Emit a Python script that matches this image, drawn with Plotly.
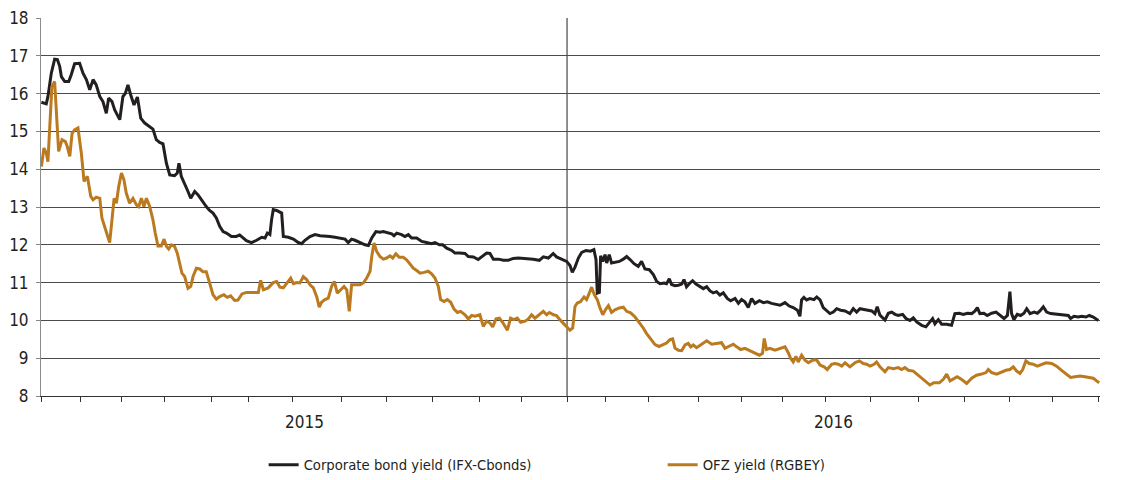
import plotly.graph_objects as go

# x = trading-day index (0 = first trading day of 2015), y = yield, %
corp_day = [0.2, 2.5, 3.3, 4.9, 6.5, 7.8, 8.9, 9.7, 11.3, 13.2, 14.4, 16.0, 18.4, 20.0, 21.6, 23.2, 24.8, 26.3, 28.0, 29.5,
            31.1, 32.2, 33.8, 35.1, 37.5, 39.0, 40.2, 41.4, 42.7, 44.3, 45.9, 47.5, 49.4, 51.8, 53.3, 54.9, 56.5, 58.1, 59.7, 61.3,
            63.6, 64.9, 65.7, 66.8, 68.4, 70.0, 71.3, 73.2, 74.8, 76.3, 78.7, 80.3, 81.9, 83.5, 85.1, 86.7, 88.3, 90.7, 93.0, 94.6,
            96.2, 97.8, 100.2, 102.7, 105.1, 106.7, 107.8, 109.0, 109.8, 110.6, 112.2, 114.6, 115.4, 117.8, 120.2, 122.5, 124.1, 125.7, 128.1, 130.5,
            132.9, 135.2, 137.6, 140.0, 142.4, 144.8, 146.3, 147.9, 149.5, 151.9, 154.3, 155.9, 157.5, 159.5, 161.4, 163.0, 164.9, 167.0, 168.1, 169.4,
            171.7, 173.3, 174.9, 176.5, 178.9, 181.3, 183.6, 186.0, 187.6, 189.7, 191.3, 193.2, 195.6, 197.1, 199.5, 201.9, 203.5, 205.9, 208.2, 210.6,
            212.2, 213.8, 215.4, 217.8, 220.2, 222.5, 224.9, 227.3, 229.7, 232.1, 234.4, 237.3, 239.2, 241.6, 243.9, 245.5, 247.9, 250.3, 251.9, 253.0,
            254.3, 255.9, 257.5, 259.5, 261.7, 263.3, 264.3, 264.9, 265.9, 266.5, 267.5, 268.6, 269.4, 270.6, 271.7, 273.3, 275.4, 277.3, 278.9, 280.5,
            282.4, 284.4, 286.0, 287.6, 289.7, 291.6, 293.2, 294.8, 296.7, 297.9, 299.2, 300.3, 301.9, 303.5, 305.1, 306.2, 307.4, 309.0, 310.3, 311.9,
            313.8, 315.4, 317.0, 318.6, 320.1, 321.7, 323.3, 324.9, 326.8, 328.4, 330.5, 332.1, 333.6, 335.2, 336.8, 338.4, 340.0, 342.1, 344.0, 345.9,
            347.9, 350.0, 351.9, 354.3, 356.3, 358.2, 360.2, 361.4, 362.2, 363.3, 364.6, 366.2, 368.1, 369.4, 371.0, 372.5, 374.1, 375.7, 377.3, 378.9,
            380.8, 382.9, 385.2, 386.8, 388.4, 390.0, 391.9, 394.0, 395.6, 397.1, 398.2, 399.5, 401.9, 403.5, 405.1, 406.7, 408.2, 410.3, 411.9, 413.8,
            415.4, 417.0, 419.4, 421.4, 423.3, 424.6, 425.7, 427.3, 428.9, 431.3, 433.6, 435.2, 437.3, 439.2, 441.1, 443.2, 444.8, 445.9, 447.1, 449.0,
            450.6, 452.7, 454.8, 456.7, 458.6, 460.2, 461.4, 462.2, 463.3, 464.9, 466.5, 468.1, 469.4, 471.0, 472.9, 474.5, 475.7, 477.3, 478.9, 480.8,
            483.6, 486.8, 489.2, 490.3, 491.9, 494.0, 495.6, 497.6, 499.2, 501.1, 502.7, 503.5]
corp_yield = [15.77, 15.73, 15.92, 16.54, 16.91, 16.90, 16.72, 16.45, 16.32, 16.32, 16.50, 16.79, 16.80, 16.54, 16.37, 16.10, 16.37, 16.23, 15.92, 15.79,
              15.48, 15.88, 15.79, 15.57, 15.31, 15.92, 16.01, 16.23, 15.97, 15.70, 15.91, 15.35, 15.22, 15.13, 15.06, 14.78, 14.71, 14.67, 14.16, 13.85,
              13.83, 13.90, 14.16, 13.81, 13.63, 13.41, 13.23, 13.41, 13.32, 13.19, 13.01, 12.91, 12.84, 12.71, 12.49, 12.35, 12.31, 12.22, 12.22, 12.26,
              12.18, 12.11, 12.06, 12.12, 12.20, 12.18, 12.31, 12.27, 12.66, 12.93, 12.91, 12.84, 12.22, 12.20, 12.15, 12.06, 12.03, 12.12, 12.22, 12.27,
              12.24, 12.24, 12.22, 12.20, 12.18, 12.15, 12.06, 12.15, 12.12, 12.05, 12.00, 11.98, 12.18, 12.35, 12.33, 12.35, 12.33, 12.29, 12.24, 12.31,
              12.27, 12.22, 12.27, 12.18, 12.18, 12.09, 12.06, 12.03, 12.06, 12.00, 12.00, 11.91, 11.85, 11.78, 11.78, 11.77, 11.69, 11.68, 11.61, 11.71,
              11.78, 11.77, 11.62, 11.62, 11.59, 11.59, 11.64, 11.65, 11.64, 11.64, 11.62, 11.59, 11.68, 11.65, 11.77, 11.68, 11.62, 11.56, 11.45, 11.27,
              11.41, 11.65, 11.80, 11.85, 11.83, 11.87, 11.61, 10.72, 10.74, 11.71, 11.56, 11.74, 11.52, 11.74, 11.52, 11.54, 11.56, 11.62, 11.69, 11.61,
              11.50, 11.43, 11.56, 11.36, 11.34, 11.21, 11.03, 10.97, 10.99, 10.97, 11.10, 10.95, 10.92, 10.93, 10.96, 11.08, 10.89, 10.99, 11.05, 10.96,
              10.89, 10.84, 10.89, 10.78, 10.73, 10.76, 10.67, 10.73, 10.58, 10.52, 10.58, 10.45, 10.55, 10.49, 10.34, 10.58, 10.45, 10.52, 10.47, 10.49,
              10.45, 10.43, 10.40, 10.47, 10.38, 10.34, 10.27, 10.11, 10.54, 10.61, 10.54, 10.58, 10.55, 10.62, 10.54, 10.34, 10.25, 10.18, 10.22, 10.31,
              10.27, 10.25, 10.18, 10.31, 10.22, 10.31, 10.29, 10.27, 10.25, 10.18, 10.36, 10.14, 10.01, 10.19, 10.22, 10.16, 10.13, 10.16, 10.05, 10.00,
              10.07, 9.96, 9.87, 9.83, 9.96, 10.05, 9.91, 10.02, 9.90, 9.90, 9.87, 10.18, 10.19, 10.16, 10.19, 10.18, 10.25, 10.34, 10.18, 10.19,
              10.13, 10.19, 10.22, 10.13, 10.05, 10.13, 10.76, 10.18, 10.02, 10.16, 10.13, 10.19, 10.31, 10.18, 10.22, 10.19, 10.25, 10.36, 10.22, 10.18,
              10.16, 10.13, 10.13, 10.05, 10.11, 10.09, 10.11, 10.09, 10.13, 10.09, 10.02, 10.00]

ofz_day = [0.2, 1.4, 2.5, 3.3, 4.1, 5.2, 6.5, 7.3, 8.4, 10.0, 11.6, 12.5, 13.7, 14.8, 16.0, 17.6, 19.2, 20.5, 22.1, 23.7,
           24.8, 26.3, 28.0, 29.0, 30.3, 31.6, 32.7, 33.8, 34.8, 35.9, 37.0, 38.3, 39.5, 40.6, 42.2, 43.8, 45.4, 46.5, 47.8, 49.0,
           50.2, 51.8, 53.3, 54.4, 55.7, 57.3, 58.6, 59.7, 60.8, 62.1, 63.6, 64.9, 66.0, 67.1, 68.4, 70.0, 71.3, 72.4, 74.0, 75.6,
           77.1, 78.7, 80.3, 81.9, 83.5, 85.1, 87.1, 88.7, 90.3, 92.2, 93.8, 95.7, 97.8, 100.3, 103.5, 104.6, 105.9, 108.2, 110.6, 112.2,
           113.8, 115.4, 117.0, 118.9, 120.2, 121.7, 123.3, 124.9, 126.5, 128.1, 129.7, 131.3, 132.5, 133.6, 135.2, 136.8, 138.4, 139.7, 141.1, 142.7,
           144.3, 145.6, 146.8, 147.9, 149.5, 151.9, 153.5, 155.1, 156.7, 157.5, 158.6, 159.8, 161.4, 163.0, 164.6, 166.2, 167.5, 169.0, 170.6, 172.5,
           174.1, 175.7, 177.3, 178.9, 180.5, 182.4, 184.4, 186.0, 187.6, 189.2, 190.3, 191.9, 193.5, 195.1, 196.7, 198.3, 199.8, 201.9, 203.5, 205.1,
           206.7, 209.0, 210.6, 212.2, 213.8, 215.1, 216.7, 218.3, 219.8, 222.1, 223.6, 225.2, 226.8, 228.4, 230.5, 232.1, 233.6, 235.2, 237.3, 239.2,
           240.8, 242.1, 244.0, 245.5, 247.1, 248.7, 250.3, 251.9, 253.2, 254.3, 255.4, 257.0, 258.6, 259.8, 261.1, 262.2, 263.5, 264.9, 266.2, 267.5,
           269.0, 270.2, 271.7, 273.3, 275.4, 277.3, 278.9, 280.8, 282.9, 285.2, 286.8, 288.4, 290.3, 292.4, 294.3, 296.3, 297.9, 299.5, 300.8, 301.9,
           303.5, 305.1, 306.7, 308.2, 309.4, 310.6, 312.2, 314.6, 317.0, 319.4, 321.7, 324.1, 325.7, 327.8, 329.7, 331.3, 333.2, 335.2, 337.6, 340.0,
           342.1, 343.6, 344.4, 345.5, 347.1, 349.5, 351.9, 354.3, 355.9, 357.0, 358.2, 359.5, 360.6, 362.2, 363.8, 365.4, 367.5, 369.4, 371.0, 372.9,
           374.4, 376.5, 378.1, 379.7, 381.3, 382.9, 385.2, 387.6, 389.7, 391.6, 393.2, 394.8, 396.7, 397.9, 399.5, 401.9, 403.5, 405.9, 408.2, 409.8,
           411.4, 413.0, 415.4, 417.8, 420.2, 423.3, 425.2, 427.8, 429.7, 431.3, 432.9, 434.4, 436.3, 438.4, 440.8, 443.2, 445.5, 447.9, 450.0, 451.1,
           452.7, 455.1, 457.5, 459.5, 461.4, 463.0, 464.6, 466.2, 467.5, 469.0, 470.6, 472.5, 474.4, 476.5, 478.6, 481.3, 483.6, 486.0, 488.4, 490.3,
           492.4, 494.8, 497.1, 499.5, 501.1, 502.7, 503.9]
ofz_yield = [14.07, 14.56, 14.43, 14.20, 15.04, 16.19, 16.32, 15.66, 14.47, 14.78, 14.73, 14.60, 14.34, 14.95, 15.04, 15.09, 14.43, 13.68, 13.81, 13.28,
             13.19, 13.26, 13.23, 12.71, 12.49, 12.26, 12.06, 12.66, 13.23, 13.10, 13.54, 13.90, 13.72, 13.37, 13.10, 13.23, 13.06, 13.01, 13.23, 13.01,
             13.23, 13.01, 12.66, 12.31, 11.97, 11.97, 12.15, 11.96, 11.89, 12.00, 11.96, 11.78, 11.51, 11.25, 11.16, 10.85, 10.90, 11.16, 11.38, 11.36,
             11.29, 11.29, 10.99, 10.68, 10.56, 10.63, 10.68, 10.61, 10.65, 10.53, 10.54, 10.70, 10.74, 10.74, 10.74, 11.06, 10.81, 10.86, 11.00, 11.03,
             10.88, 10.86, 10.99, 11.12, 10.97, 11.00, 10.99, 11.16, 11.08, 10.94, 10.86, 10.63, 10.35, 10.48, 10.55, 10.59, 10.90, 11.03, 10.72, 10.81,
             10.90, 10.81, 10.24, 10.94, 10.94, 10.94, 10.99, 11.12, 11.30, 11.69, 12.05, 11.83, 11.69, 11.62, 11.65, 11.71, 11.65, 11.76, 11.67, 11.67,
             11.60, 11.50, 11.38, 11.32, 11.25, 11.27, 11.30, 11.23, 11.12, 10.90, 10.55, 10.50, 10.55, 10.48, 10.30, 10.21, 10.24, 10.15, 10.04, 10.13,
             10.11, 10.15, 9.84, 9.98, 9.93, 9.83, 10.04, 10.06, 9.95, 9.74, 10.06, 10.02, 10.06, 9.95, 9.98, 10.04, 10.15, 10.06, 10.15, 10.24,
             10.15, 10.21, 10.15, 10.13, 10.02, 9.93, 9.84, 9.74, 9.80, 10.37, 10.46, 10.50, 10.62, 10.55, 10.72, 10.88, 10.68, 10.55, 10.33, 10.15,
             10.30, 10.39, 10.21, 10.28, 10.33, 10.35, 10.24, 10.20, 10.09, 9.93, 9.80, 9.65, 9.51, 9.36, 9.31, 9.36, 9.40, 9.49, 9.51, 9.27,
             9.21, 9.20, 9.35, 9.39, 9.30, 9.35, 9.28, 9.37, 9.46, 9.37, 9.39, 9.41, 9.26, 9.32, 9.37, 9.30, 9.23, 9.26, 9.20, 9.13,
             9.08, 9.13, 9.52, 9.23, 9.26, 9.21, 9.26, 9.30, 9.14, 8.99, 8.90, 9.05, 8.90, 9.08, 8.95, 8.88, 8.95, 8.95, 8.82, 8.77,
             8.70, 8.84, 8.86, 8.84, 8.79, 8.88, 8.77, 8.88, 8.93, 8.86, 8.84, 8.79, 8.84, 8.90, 8.77, 8.64, 8.75, 8.72, 8.75, 8.70,
             8.75, 8.68, 8.66, 8.55, 8.42, 8.29, 8.35, 8.35, 8.44, 8.58, 8.40, 8.44, 8.51, 8.44, 8.33, 8.47, 8.55, 8.58, 8.62, 8.70,
             8.62, 8.58, 8.64, 8.68, 8.70, 8.77, 8.66, 8.60, 8.70, 8.93, 8.86, 8.84, 8.79, 8.84, 8.88, 8.86, 8.79, 8.68, 8.58, 8.49,
             8.51, 8.53, 8.51, 8.49, 8.47, 8.40, 8.35]

month_start_days = [0, 19.0, 38.1, 59.0, 81.4, 99.0, 120.0, 143.3, 164.3, 186.2, 208.6, 228.6, 250.5,
                    268.6, 289.5, 312.9, 333.8, 352.9, 373.8, 394.8, 418.1, 440.0, 461.0, 481.9, 503.8]
year_labels = ["2015", "2016"]
year_start_days = [0, 250.5, 504.3]
y_ticks = list(range(8, 19))

FONT = "DejaVu Sans Condensed, Liberation Sans Narrow, sans-serif"
BLACK = "#231f20"
ORANGE = "#bb7a1f"

fig = go.Figure()
fig.add_trace(go.Scatter(x=corp_day, y=corp_yield, mode="lines", name="Corporate bond yield (IFX-Cbonds)",
                         line=dict(color=BLACK, width=3)))
fig.add_trace(go.Scatter(x=ofz_day, y=ofz_yield, mode="lines", name="OFZ yield (RGBEY)",
                         line=dict(color=ORANGE, width=3)))

# year separator
fig.add_shape(type="line", xref="x", yref="paper", x0=year_start_days[1], x1=year_start_days[1], y0=0, y1=1,
              line=dict(color="#222222", width=1), layer="below")

for i, lab in enumerate(year_labels):
    fig.add_annotation(x=(year_start_days[i] + year_start_days[i + 1]) / 2, y=-0.069, xref="x", yref="paper",
                       text=lab, showarrow=False, yanchor="middle",
                       font=dict(family=FONT, size=17, color="#231f20"))

fig.update_layout(
    width=1137, height=480,
    margin=dict(l=41, r=37, t=18, b=84, autoexpand=False),
    plot_bgcolor="white", paper_bgcolor="white",
    font=dict(family=FONT, size=17, color="#231f20"),
    showlegend=True,
    hovermode=False,
    legend=dict(orientation="h", x=0.587, xanchor="center", y=-0.183, yanchor="middle",
                font=dict(family=FONT, size=14.7, color="#231f20"),
                itemwidth=30, entrywidth=354, entrywidthmode="pixels"),
    xaxis=dict(range=[0, year_start_days[2]], tickmode="array", tickvals=month_start_days,
               showticklabels=False, ticks="outside", ticklen=5, tickcolor="#333333", tickwidth=1,
               showgrid=False, zeroline=False, showline=True, linecolor="#333333", linewidth=1,
               automargin=False),
    yaxis=dict(range=[8, 18], tickmode="array", tickvals=y_ticks, ticks="outside", ticklen=4,
               tickcolor="#888888", showgrid=True, gridcolor="#4a4a4a", gridwidth=1, zeroline=False,
               showline=True, linecolor="#8c8c8c", linewidth=1, ticklabelstandoff=4, automargin=False),
    yaxis2=dict(range=[8, 18], overlaying="y", side="right", tickmode="array", tickvals=y_ticks,
                ticks="outside", ticklen=5, tickcolor="#888888", showgrid=False, zeroline=False,
                showline=True, linecolor="#8c8c8c", linewidth=1, ticklabelstandoff=2, automargin=False),
)

fig.write_html("out.html", config={"displayModeBar": False},
               post_script="document.body.style.margin='0';document.body.style.padding='0';")
